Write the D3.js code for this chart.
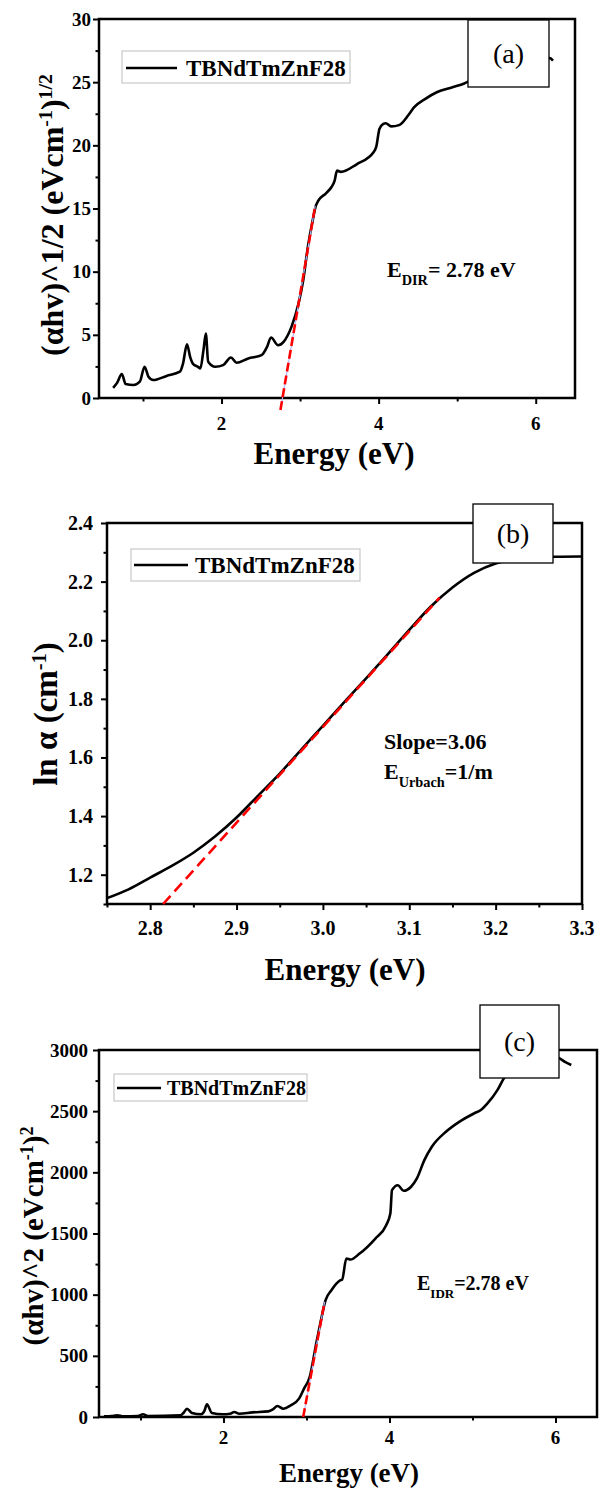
<!DOCTYPE html>
<html><head><meta charset="utf-8">
<script src="https://cdn.jsdelivr.net/npm/d3@7"></script>
<style>
body{margin:0;background:#fff}
svg{display:block}
text{font-family:"Liberation Serif","Times New Roman",Times,serif}
</style>
</head><body>
<svg id="chart" width="599" height="1488"></svg>
<script>
// ---------- DATA ----------
const seriesName = "TBNdTmZnF28";

// (a) (αhv)^1/2 vs energy
const energyA = [0.62,0.67,0.73,0.78,0.88,0.96,1.02,1.07,1.13,1.30,1.47,1.51,1.56,1.60,1.64,1.70,1.73,1.77,1.80,1.83,1.92,2.02,2.12,2.19,2.34,2.51,2.58,2.63,2.72,2.79,2.89,2.98,3.04,3.10,3.16,3.20,3.23,3.33,3.40,3.44,3.47,3.52,3.72,3.94,3.97,4.01,4.06,4.09,4.16,4.26,4.38,4.45,4.60,4.74,4.94,5.09,5.16,5.35,5.60,5.90,6.12,6.18,6.22];
const valuesA = [0.81,1.2,1.89,1.1,1.03,1.29,2.47,1.68,1.42,1.75,2.08,2.74,4.26,3.26,2.68,2.47,2.34,3.79,5.1,2.87,2.47,2.6,3.21,2.79,3.13,3.39,4.05,4.79,4.18,4.45,5.63,7.47,9.32,12.0,14.05,15.2,15.6,16.2,16.7,17.2,18.0,17.9,18.5,19.5,19.9,21.3,21.7,21.75,21.5,21.6,22.4,23.0,23.7,24.2,24.6,24.9,25.1,25.5,25.9,26.4,26.8,26.9,26.7];
const fitEnergyA = [2.750, 3.192];
const fitValuesA = [-0.95, 15.2];
const xTicksA = [2, 4, 6];
const xMinorA = [1, 3, 5];
const yTicksA = [0, 5, 10, 15, 20, 25, 30];
const yMinorA = [2.5, 7.5, 12.5, 17.5, 22.5, 27.5];

// (b) ln α vs energy
const energyB = [2.75,2.775,2.80,2.825,2.85,2.875,2.90,2.925,2.95,2.975,3.00,3.025,3.05,3.075,3.10,3.125,3.15,3.175,3.20,3.225,3.25,3.275,3.30];
const valuesB = [1.12,1.15,1.19,1.23,1.275,1.33,1.395,1.47,1.545,1.627,1.708,1.79,1.87,1.952,2.035,2.115,2.18,2.23,2.262,2.277,2.283,2.285,2.286];
const fitEnergyB = [2.815, 3.135];
const fitValuesB = [1.10, 2.145];
const xTicksB = [2.8, 2.9, 3.0, 3.1, 3.2, 3.3];
const xMinorB = [2.75, 2.85, 2.95, 3.05, 3.15, 3.25];
const yTicksB = [1.2, 1.4, 1.6, 1.8, 2.0, 2.2, 2.4];
const yMinorB = [1.1, 1.3, 1.5, 1.7, 1.9, 2.1, 2.3];

// (c) (αhv)^2 vs energy
const energyC = [0.56,0.65,0.72,0.79,0.97,1.03,1.09,1.48,1.52,1.56,1.62,1.73,1.77,1.80,1.86,1.99,2.08,2.13,2.19,2.35,2.54,2.60,2.65,2.72,2.81,2.91,2.97,3.04,3.11,3.18,3.23,3.30,3.41,3.43,3.48,3.53,3.64,3.83,3.96,4.01,4.03,4.10,4.17,4.26,4.33,4.42,4.51,4.68,4.84,5.02,5.10,5.18,5.30,5.39,5.60,5.85,6.04,6.12,6.19];
const valuesC = [5,8,14,5,8,22,8,14,35,68,33,22,50,104,33,22,27,41,27,38,46,65,90,68,95,150,232,330,575,810,955,1036,1118,1124,1295,1287,1336,1459,1568,1663,1854,1895,1849,1882,1950,2100,2209,2332,2413,2482,2509,2563,2672,2782,2880,2960,2934,2900,2877];
const fitEnergyC = [2.96, 3.218];
const fitValuesC = [0, 941];
const xTicksC = [2, 4, 6];
const xMinorC = [1, 3, 5];
const yTicksC = [0, 500, 1000, 1500, 2000, 2500, 3000];
const yMinorC = [250, 750, 1250, 1750, 2250, 2750];

// ---------- DRAW ----------
const svg = d3.select("#chart");

function addRich(sel, parts){
  parts.forEach(p=>{
    const t = sel.append("tspan").text(p.t);
    if(p.sup){ t.attr("baseline-shift","super").attr("font-size","62%"); }
    if(p.sub){ t.attr("baseline-shift","sub").attr("font-size","65%"); }
  });
}

function panel(c){
  const g = svg.append("g");
  const x = d3.scaleLinear().domain(c.xDomain).range([c.left, c.right]);
  const y = d3.scaleLinear().domain(c.yDomain).range([c.bottom, c.top]);

  // axes (ticks outward)
  const ax = g.append("g").attr("transform",`translate(0,${c.bottom})`)
    .call(d3.axisBottom(x).tickValues(c.xTicks).tickSize(6).tickSizeOuter(0).tickFormat(""));
  const axm = g.append("g").attr("transform",`translate(0,${c.bottom})`)
    .call(d3.axisBottom(x).tickValues(c.xMinor).tickSize(3.5).tickSizeOuter(0).tickFormat(""));
  const ay = g.append("g").attr("transform",`translate(${c.left},0)`)
    .call(d3.axisLeft(y).tickValues(c.yTicks).tickSize(6).tickSizeOuter(0).tickFormat(""));
  const aym = g.append("g").attr("transform",`translate(${c.left},0)`)
    .call(d3.axisLeft(y).tickValues(c.yMinor).tickSize(3.5).tickSizeOuter(0).tickFormat(""));
  [ax,axm,ay,aym].forEach(a=>{
    a.select(".domain").remove();
    a.selectAll(".tick line").attr("stroke","#000").attr("stroke-width",2);
  });

  // frame
  g.append("rect").attr("x",c.left).attr("y",c.top)
    .attr("width",c.right-c.left).attr("height",c.bottom-c.top)
    .attr("fill","none").attr("stroke","#000").attr("stroke-width",2.5);

  // tick labels
  g.append("g").selectAll("text").data(c.xTicks).join("text")
    .attr("x",d=>x(d)).attr("y",c.xLabBase)
    .attr("text-anchor","middle").attr("font-weight","bold").attr("font-size",c.tickFont)
    .text(c.xFmt);
  g.append("g").selectAll("text").data(c.yTicks).join("text")
    .attr("x",c.left-c.yLabGap).attr("y",d=>y(d)).attr("dy","0.35em")
    .attr("text-anchor","end").attr("font-weight","bold").attr("font-size",c.tickFont)
    .text(c.yFmt);

  // curve
  const line = d3.line().x(d=>x(d[0])).y(d=>y(d[1])).curve(d3.curveMonotoneX);
  g.append("path").datum(d3.zip(c.energy,c.values)).attr("d",line)
    .attr("fill","none").attr("stroke","#000").attr("stroke-width",2.6).attr("stroke-linejoin","round");

  // fit lines
  const fit = d3.zip(c.fitX,c.fitY);
  const lin = d3.line().x(d=>x(d[0])).y(d=>y(d[1]));
  if(c.blue){
    g.append("path").datum(fit).attr("d",lin).attr("stroke","#b4b8ff").attr("stroke-width",1.2).attr("fill","none");
  }
  g.append("path").datum(fit).attr("d",lin).attr("stroke","#ff0000").attr("stroke-width",2.6)
    .attr("fill","none").attr("stroke-dasharray",c.dash);

  // legend
  const L = c.legend;
  g.append("rect").attr("x",L.x).attr("y",L.y).attr("width",L.w).attr("height",L.h)
    .attr("fill","#fff").attr("stroke","#c8c8c8").attr("stroke-width",1.2);
  g.append("line").attr("x1",L.lx1).attr("x2",L.lx2).attr("y1",L.ly).attr("y2",L.ly)
    .attr("stroke","#000").attr("stroke-width",2.6);
  g.append("text").attr("x",L.tx).attr("y",L.ty).attr("font-weight","bold")
    .attr("font-size",L.fs).text(seriesName);

  // panel tag box
  const T = c.tag;
  g.append("rect").attr("x",T.x).attr("y",T.y).attr("width",T.w).attr("height",T.h)
    .attr("fill","#fff").attr("stroke","#000").attr("stroke-width",1.3);
  g.append("text").attr("x",T.x+T.w/2).attr("y",T.y+T.h/2).attr("dy","0.35em")
    .attr("text-anchor","middle").attr("font-size",T.fs).text(T.label);

  // annotations
  c.notes.forEach(n=>{
    const t = g.append("text").attr("x",n.x).attr("y",n.y).attr("font-weight","bold").attr("font-size",n.fs);
    addRich(t,n.parts);
  });

  // axis titles
  g.append("text").attr("x",c.xTitleX).attr("y",c.xTitleY).attr("text-anchor","middle")
    .attr("font-weight","bold").attr("font-size",c.xTitleFs).text("Energy (eV)");
  const yt = g.append("text").attr("transform",`translate(${c.yTitleX},${c.yTitleY}) rotate(-90)`)
    .attr("text-anchor","middle").attr("font-weight","bold").attr("font-size",c.yTitleFs);
  addRich(yt,c.yTitle);
}

panel({
  left:99,right:575,top:19,bottom:398,xDomain:[0.44,6.5],yDomain:[0,30],
  xTicks:xTicksA,xMinor:xMinorA,yTicks:yTicksA,yMinor:yMinorA,
  xFmt:d3.format("d"),yFmt:d3.format("d"),tickFont:19,xLabBase:430,yLabGap:8,
  energy:energyA,values:valuesA,fitX:fitEnergyA,fitY:fitValuesA,blue:true,dash:"9,4",
  legend:{x:122,y:51,w:228,h:32,lx1:126,lx2:177,ly:68,tx:186,ty:76,fs:23},
  tag:{x:468,y:20,w:81,h:67,fs:28,label:"(a)"},
  notes:[{x:387,y:277,fs:22,parts:[{t:"E"},{t:"DIR",sub:true},{t:"= 2.78 eV"}]}],
  xTitleX:334,xTitleY:464,xTitleFs:31,
  yTitleX:63,yTitleY:215,yTitleFs:32,
  yTitle:[{t:"(αhv)^1/2 (eVcm"},{t:"-1",sup:true},{t:")"},{t:"1/2",sup:true}]
});

panel({
  left:107,right:582,top:523,bottom:904,xDomain:[2.75,3.3],yDomain:[1.1,2.4],
  xTicks:xTicksB,xMinor:xMinorB,yTicks:yTicksB,yMinor:yMinorB,
  xFmt:d3.format(".1f"),yFmt:d3.format(".1f"),tickFont:20,xLabBase:935,yLabGap:14,
  energy:energyB,values:valuesB,fitX:fitEnergyB,fitY:fitValuesB,blue:false,dash:"11,6",
  legend:{x:131,y:549,w:229,h:32,lx1:134,lx2:188,ly:565,tx:195,ty:573,fs:23},
  tag:{x:473,y:504,w:80,h:59,fs:28,label:"(b)"},
  notes:[{x:384,y:749,fs:22,parts:[{t:"Slope=3.06"}]},
         {x:384,y:779,fs:22,parts:[{t:"E"},{t:"Urbach",sub:true},{t:"=1/m"}]}],
  xTitleX:345,xTitleY:980,xTitleFs:31,
  yTitleX:57,yTitleY:714,yTitleFs:33,
  yTitle:[{t:"ln α (cm"},{t:"-1",sup:true},{t:")"}]
});

panel({
  left:99,right:597,top:1050,bottom:1417,xDomain:[0.5,6.5],yDomain:[0,3000],
  xTicks:xTicksC,xMinor:xMinorC,yTicks:yTicksC,yMinor:yMinorC,
  xFmt:d3.format("d"),yFmt:d3.format("d"),tickFont:19,xLabBase:1444,yLabGap:11,
  energy:energyC,values:valuesC,fitX:fitEnergyC,fitY:fitValuesC,blue:true,dash:"9,4",
  legend:{x:114,y:1074,w:193,h:27,lx1:117,lx2:161,ly:1088,tx:167,ty:1095,fs:20},
  tag:{x:480,y:1005,w:79,h:73,fs:28,label:"(c)"},
  notes:[{x:417,y:1290,fs:20,parts:[{t:"E"},{t:"IDR",sub:true},{t:"=2.78 eV"}]}],
  xTitleX:349,xTitleY:1482,xTitleFs:27,
  yTitleX:43,yTitleY:1236,yTitleFs:29,
  yTitle:[{t:"(αhv)^2 (eVcm"},{t:"-1",sup:true},{t:")"},{t:"2",sup:true}]
});
</script>
</body></html>
